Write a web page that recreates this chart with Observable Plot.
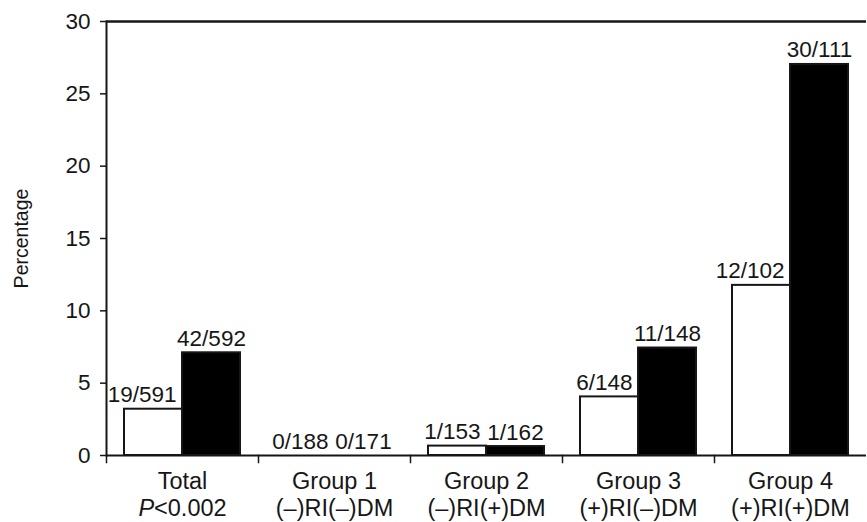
<!DOCTYPE html>
<html><head><meta charset="utf-8">
<script src="https://cdn.jsdelivr.net/npm/d3@7"></script>
<script src="https://cdn.jsdelivr.net/npm/@observablehq/plot@0.6"></script>
<style>
body{margin:0;background:#fff}
svg{font-family:"Liberation Sans",Arial,Helvetica,sans-serif}
</style>
</head><body><div id="chart"></div>
<script>
const groups = ["Total", "Group 1", "Group 2", "Group 3", "Group 4"];
const groupSub = ["P<0.002", "(–)RI(–)DM", "(–)RI(+)DM", "(+)RI(–)DM", "(+)RI(+)DM"];
const series = ["white", "black"];
const whiteValues = [3.2, 0, 0.65, 4.05, 11.76];
const blackValues = [7.1, 0, 0.62, 7.43, 27.03];
const whiteLabels = ["19/591", "0/188", "1/153", "6/148", "12/102"];
const blackLabels = ["42/592", "0/171", "1/162", "11/148", "30/111"];
const yTicks = [0, 5, 10, 15, 20, 25, 30];

const rows = [];
groups.forEach((g, i) => {
  rows.push({group: g, series: "white", value: whiteValues[i], label: whiteLabels[i]});
  rows.push({group: g, series: "black", value: blackValues[i], label: blackLabels[i]});
});
const whiteRows = rows.filter(d => d.series === "white");
const blackRows = rows.filter(d => d.series === "black");

const ink = "#161616";
const fs = 23.5;   // category labels
const vfs = 22.5;  // value labels
const plot = Plot.plot({
  width: 867, height: 522,
  marginLeft: 104, marginRight: 0, marginTop: 21, marginBottom: 67,
  style: {fontFamily: '"Liberation Sans",Arial,Helvetica,sans-serif', fontSize: fs + "px", color: ink, background: "white"},
  fx: {domain: groups, padding: 0, axis: null},
  x: {domain: series, paddingInner: 0, paddingOuter: 0.31, axis: null},
  y: {domain: [0, 30], axis: null},
  color: {domain: series, range: ["#ffffff", ink]},
  marks: [
    Plot.barY(rows, {fx: "group", x: "series", y: "value", fill: "series", stroke: ink, strokeWidth: 2}),
    Plot.text(whiteRows, {fx: "group", x: "series", y: "value", text: "label", dx: 23, dy: -7, textAnchor: "end", lineAnchor: "bottom", fontSize: vfs, fill: ink}),
    Plot.text(blackRows, {fx: "group", x: "series", y: "value", text: "label", dx: 0, dy: -7, lineAnchor: "bottom", fontSize: vfs, fill: ink}),
    Plot.ruleY([0], {stroke: ink, strokeWidth: 2}),
    Plot.ruleY([30], {stroke: ink, strokeWidth: 2.5}),
    Plot.frame({anchor: "left", facetAnchor: "left", stroke: ink, strokeWidth: 2}),
    Plot.frame({anchor: "left", insetTop: 434, insetBottom: -7, stroke: ink, strokeWidth: 1.5}),
    Plot.axisY({ticks: yTicks, tickSize: 6, tickPadding: 10, fontSize: 22.5, label: "Percentage", labelAnchor: "center", labelOffset: 92, labelArrow: "none", stroke: ink, strokeWidth: 1.5}),
    Plot.axisFx({anchor: "bottom", tickSize: 0, tickPadding: 15, fontSize: fs, lineHeight: 1.12, label: null,
      tickFormat: d => d + "\n" + groupSub[groups.indexOf(d)]})
  ]
});
document.getElementById("chart").appendChild(plot);

// italic P in "P<0.002"
plot.querySelectorAll("tspan, text").forEach(el => {
  if (el.childElementCount === 0 && el.textContent === groupSub[0]) {
    el.textContent = "";
    const it = document.createElementNS("http://www.w3.org/2000/svg", "tspan");
    it.setAttribute("font-style", "italic");
    it.textContent = groupSub[0].slice(0, 1);
    el.appendChild(it);
    el.appendChild(document.createTextNode(groupSub[0].slice(1)));
  }
});
// smaller axis title
plot.querySelectorAll("text").forEach(el => {
  if (el.textContent === "Percentage") el.setAttribute("font-size", "19.5");
});
</script>
</body></html>
